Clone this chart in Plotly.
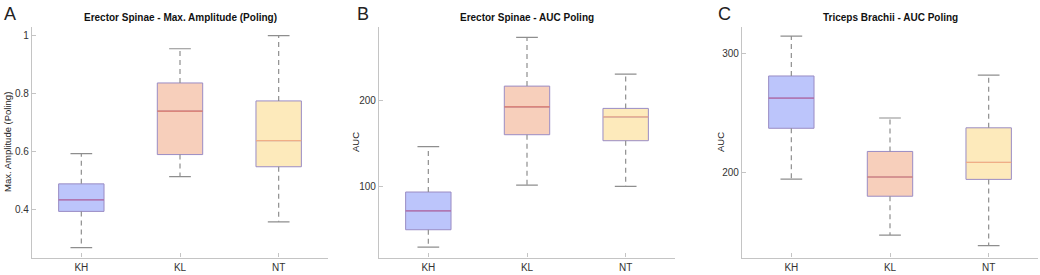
import plotly.graph_objects as go

groups = ["KH", "KL", "NT"]
positions = [1, 2, 3]

# Panel A: Erector Spinae - Max. Amplitude (Poling)
a_lower = [0.269, 0.514, 0.358]
a_q1 = [0.394, 0.590, 0.548]
a_median = [0.434, 0.740, 0.638]
a_q3 = [0.489, 0.837, 0.775]
a_upper = [0.593, 0.955, 1.000]

# Panel B: Erector Spinae - AUC Poling
b_lower = [29, 101.5, 100]
b_q1 = [49.4, 160.3, 153.3]
b_median = [71.4, 192.7, 181]
b_q3 = [93.4, 217, 191]
b_upper = [146.4, 274, 231]

# Panel C: Triceps Brachii - AUC Poling
c_lower = [194.7, 147.8, 138.9]
c_q1 = [237.2, 180.3, 194.4]
c_median = [262.5, 196.4, 208.6]
c_q3 = [281, 217.8, 237.6]
c_upper = [314.4, 245.8, 281.7]

fills = ["#bcc5fb", "#f7cfbb", "#fdeabb"]
medcols = ["#b46aa6", "#e27a64", "#f0ae86"]
edge = "#9a8cc4"
whisk = "#8e8e8e"

panels = [
    dict(lower=a_lower, q1=a_q1, med=a_median, q3=a_q3, upper=a_upper,
         title="Erector Spinae - Max. Amplitude (Poling)", ytitle="Max. Amplitude (Poling)",
         letter="A", xdom=[32/1040, 328/1040], yr=[0.235, 1.03],
         tickvals=[0.4, 0.6, 0.8, 1], ticktext=["0.4", "0.6", "0.8", "1"], ytx=7, ltx=10),
    dict(lower=b_lower, q1=b_q1, med=b_median, q3=b_q3, upper=b_upper,
         title="Erector Spinae - AUC Poling", ytitle="AUC",
         letter="B", xdom=[379/1040, 675/1040], yr=[17, 286],
         tickvals=[100, 200], ticktext=["100", "200"], ytx=355, ltx=363),
    dict(lower=c_lower, q1=c_q1, med=c_median, q3=c_q3, upper=c_upper,
         title="Triceps Brachii - AUC Poling", ytitle="AUC",
         letter="C", xdom=[742/1040, 1038/1040], yr=[129, 322],
         tickvals=[200, 300], ticktext=["200", "300"], ytx=720, ltx=724),
]

fig = go.Figure()
ydom = [1 - 257.5/275, 1 - 27/275]
font = "Liberation Sans, Arial, Helvetica, sans-serif"
bw = 0.46
cap = 0.11
annotations = []

for i, p in enumerate(panels):
    n = "" if i == 0 else str(i + 1)
    xa, ya = "x" + n, "y" + n
    for j, pos in enumerate(positions):
        # whiskers (dashed)
        fig.add_trace(go.Scatter(
            x=[pos, pos, None, pos, pos],
            y=[p["q3"][j], p["upper"][j], None, p["q1"][j], p["lower"][j]],
            mode="lines", line=dict(color=whisk, width=1.2, dash="5px,4px"),
            xaxis=xa, yaxis=ya, showlegend=False, hoverinfo="skip"))
        # caps
        fig.add_trace(go.Scatter(
            x=[pos - cap, pos + cap, None, pos - cap, pos + cap],
            y=[p["upper"][j], p["upper"][j], None, p["lower"][j], p["lower"][j]],
            mode="lines", line=dict(color=whisk, width=1.2),
            xaxis=xa, yaxis=ya, showlegend=False, hoverinfo="skip"))
        # box
        fig.add_trace(go.Box(
            x=[pos], q1=[p["q1"][j]], median=[p["med"][j]], q3=[p["q3"][j]],
            lowerfence=[p["q1"][j]], upperfence=[p["q3"][j]],
            width=bw, whiskerwidth=0, fillcolor=fills[j],
            line=dict(color=edge, width=1), boxpoints=False,
            xaxis=xa, yaxis=ya, showlegend=False, name=groups[j]))
        # median
        fig.add_trace(go.Scatter(
            x=[pos - bw/2, pos + bw/2], y=[p["med"][j], p["med"][j]],
            mode="lines", line=dict(color=medcols[j], width=1.2),
            xaxis=xa, yaxis=ya, showlegend=False, hoverinfo="skip"))

    axcommon = dict(showgrid=False, zeroline=False, showline=True, linecolor="#c4c4c4",
                    linewidth=1.2, ticks="inside", ticklen=4, tickcolor="#c4c4c4",
                    tickfont=dict(family=font, size=10, color="#333"))
    fig.layout["xaxis" + n] = dict(domain=p["xdom"], range=[0.5, 3.5], anchor=ya,
                                   tickvals=positions, ticktext=groups, **axcommon)
    fig.layout["yaxis" + n] = dict(domain=ydom, range=p["yr"], anchor=xa,
                                   tickvals=p["tickvals"], ticktext=p["ticktext"], **axcommon)
    xc = (p["xdom"][0] + p["xdom"][1]) / 2
    annotations.append(dict(text="<b>" + p["title"] + "</b>", x=xc, y=1 - 18/275,
                            xref="paper", yref="paper", showarrow=False,
                            xanchor="center", yanchor="middle",
                            font=dict(family=font, size=10, color="#111")))
    annotations.append(dict(text=p["ytitle"], x=p["ytx"]/1040, y=1 - 142/275, textangle=-90,
                            xref="paper", yref="paper", showarrow=False,
                            xanchor="center", yanchor="middle",
                            font=dict(family=font, size=9.5, color="#222")))
    annotations.append(dict(text=p["letter"], x=p["ltx"]/1040, y=1 - 14/275,
                            xref="paper", yref="paper", showarrow=False,
                            xanchor="center", yanchor="middle",
                            font=dict(family=font, size=18, color="#222")))

fig.update_layout(width=1040, height=275, margin=dict(l=0, r=0, t=0, b=0),
                  plot_bgcolor="white", paper_bgcolor="white",
                  annotations=annotations, showlegend=False)

fig.write_html("out.html", config={"displayModeBar": False},
               post_script="document.body.style.margin='0';document.body.style.overflow='hidden';")
